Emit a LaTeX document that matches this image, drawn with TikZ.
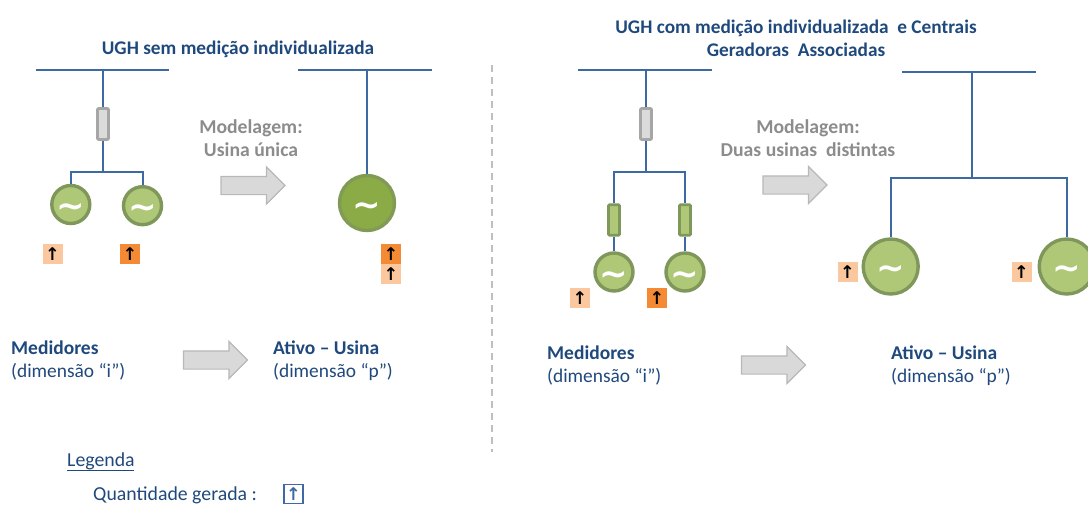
\documentclass[tikz,border=0pt]{standalone}
\usepackage{fontspec}
\setmainfont{Carlito}
\newfontfamily\symfont{DejaVu Sans}
\usetikzlibrary{shapes.arrows}
\definecolor{ink}{HTML}{1F497D}
\definecolor{wire}{HTML}{3E6AA3}
\definecolor{gfill}{HTML}{AFC877}
\definecolor{gedge}{HTML}{7F975A}
\definecolor{gbig}{HTML}{8AAB45}
\definecolor{gtxt}{HTML}{8C8C8C}
\definecolor{mlight}{HTML}{FBC79F}
\definecolor{mdark}{HTML}{F58A35}
\newcommand{\wave}{\raisebox{-13pt}[0pt][0pt]{\symfont\bfseries\fontsize{34}{34}\selectfont\char"223C}}
\tikzset{
  x=1pt,y=-1pt,
  wireline/.style={draw=wire,line width=2pt},
  busline/.style={draw=wire,line width=2pt},
  gen/.style={circle,draw=gedge,fill=gfill,line width=3.4pt,inner sep=0pt,minimum size=38pt,text=white},
  genbig/.style={gen,minimum size=55pt},
  genfull/.style={genbig,fill=gbig,draw=gedge!80!gbig},
  brk/.style={rectangle,rounded corners=1pt,draw=black!35,fill=black!14,line width=2.6pt,inner sep=0pt,minimum width=11pt,minimum height=31pt},
  brkg/.style={brk,draw=gedge,fill=gfill,minimum height=30.5pt},
  meter/.style={rectangle,inner sep=0pt,minimum size=20pt,text=black,font=\symfont\bfseries\fontsize{17.5}{17.5}\selectfont},
  mlo/.style={meter,fill=mlight},
  mhi/.style={meter,fill=mdark},
  mkey/.style={meter,draw=wire,line width=1.4pt,minimum size=19pt,text=wire},
  blockarrow/.style={single arrow,draw=black!28,fill=black!15,line width=1.2pt,minimum height=64pt,single arrow head extend=9.5pt,inner xsep=0pt,inner ysep=8.5pt},
  title/.style={text=ink,font=\fontsize{19.3}{23}\bfseries,inner sep=0pt,align=center},
  model/.style={text=gtxt,font=\fontsize{19.7}{23}\bfseries,inner sep=0pt,align=center},
  head/.style={text=ink,font=\fontsize{19.5}{22}\bfseries,inner sep=0pt,anchor=west},
  dim/.style={text=ink,font=\fontsize{19.4}{22}\selectfont,inner sep=0pt,anchor=west},
  legend/.style={text=ink,font=\fontsize{19.8}{22}\selectfont,inner sep=0pt,anchor=west},
}
\begin{document}
\begin{tikzpicture}
\useasboundingbox (0,0) rectangle (1088,504);
\clip (0,0) rectangle (1088,504);
% left block, before
\node[title] (t1) at (238,49) {UGH sem medição individualizada};
\coordinate (b1l) at (36,70); \coordinate (b1r) at (169,70); \coordinate (b1c) at (103,70);
\draw[busline] (b1l) -- (b1r);
\coordinate (j1) at (103,172);
\node[brk] (k1) at (103,124) {};
\node[gen] (g1) at (70.8,204.5) {\wave};
\node[gen] (g2) at (142.5,205.7) {\wave};
\draw[wireline] (b1c) -- (k1) (k1) -- (j1);
\draw[wireline] (g1.north) |- (j1) -| (g2.north);
\node[mlo] (m1) at (52.5,254) {↑};
\node[mhi] (m2) at (130,254) {↑};
% left, modelled
\node[model] (mod1) at (251,138) {Modelagem:\\Usina única};
\node[blockarrow] (a1) at (248.5,185.5) {};
\coordinate (b2l) at (298,70); \coordinate (b2r) at (432,70); \coordinate (b2c) at (367,70);
\draw[busline] (b2l) -- (b2r);
\node[genfull] (g3) at (367,203) {\wave};
\draw[wireline] (b2c) -- (g3.north);
\node[mhi] (m3) at (391,254) {↑};
\node[mlo] (m4) at (391,274) {↑};
\node[head] (h1) at (11,348) {Medidores};
\node[dim] (d1) at (11,372) {(dimensão “i”)};
\node[blockarrow] (a2) at (211,360) {};
\node[head] (h2) at (273,348) {Ativo – Usina};
\node[dim] (d2) at (273,372) {(dimensão “p”)};
% divider
\coordinate (s1) at (492,65); \coordinate (s2) at (492,452);
\draw[black!25,line width=1.2pt,dash pattern=on 7pt off 5pt] (s1) -- (s2);
% right block, before
\node[title] (t2) at (796,38.5) {UGH com medição individualizada\ \ e Centrais\\Geradoras\ \ Associadas};
\coordinate (b3l) at (578,70); \coordinate (b3r) at (712,70); \coordinate (b3c) at (646,70);
\draw[busline] (b3l) -- (b3r);
\coordinate (j3) at (646,172);
\node[brk] (k3) at (646,124) {};
\node[brkg] (k4) at (614,220) {};
\node[brkg] (k5) at (685,220) {};
\node[gen] (g4) at (614,272) {\wave};
\node[gen] (g5) at (685,272) {\wave};
\draw[wireline] (b3c) -- (k3) (k3) -- (j3);
\draw[wireline] (k4.north) |- (j3) -| (k5.north);
\draw[wireline] (k4.south) -- (g4.north) (k5.south) -- (g5.north);
\node[mlo] (m5) at (580,298) {↑};
\node[mhi] (m6) at (657,298) {↑};
% right, modelled
\node[model] (mod2) at (808,138) {Modelagem:\\Duas usinas\ \ distintas};
\node[blockarrow] (a3) at (790.5,185) {};
\coordinate (b4l) at (902,72); \coordinate (b4r) at (1036,72); \coordinate (b4c) at (972,72);
\draw[busline] (b4l) -- (b4r);
\coordinate (j4) at (972,178);
\node[genbig] (g6) at (890.7,266.5) {\wave};
\node[genbig] (g7) at (1066.7,266.5) {\wave};
\draw[wireline] (b4c) -- (j4);
\draw[wireline] (g6.north) |- (j4) -| (g7.north);
\node[mlo] (m7) at (847.5,272) {↑};
\node[mlo] (m8) at (1021.5,272) {↑};
\node[head] (h3) at (547,353) {Medidores};
\node[dim] (d3) at (547,377) {(dimensão “i”)};
\node[blockarrow] (a4) at (769,365) {};
\node[head] (h4) at (891,353) {Ativo – Usina};
\node[dim] (d4) at (891,377) {(dimensão “p”)};
% legend
\node[legend] (l1) at (67,461) {Legenda};
\draw[ink,line width=0.8pt] (67,470.5) -- (133.5,470.5);
\node[legend] (l2) at (93,495.5) {Quantidade gerada :};
\node[mkey] (l3) at (293.5,494) {↑};
\end{tikzpicture}
\end{document}
